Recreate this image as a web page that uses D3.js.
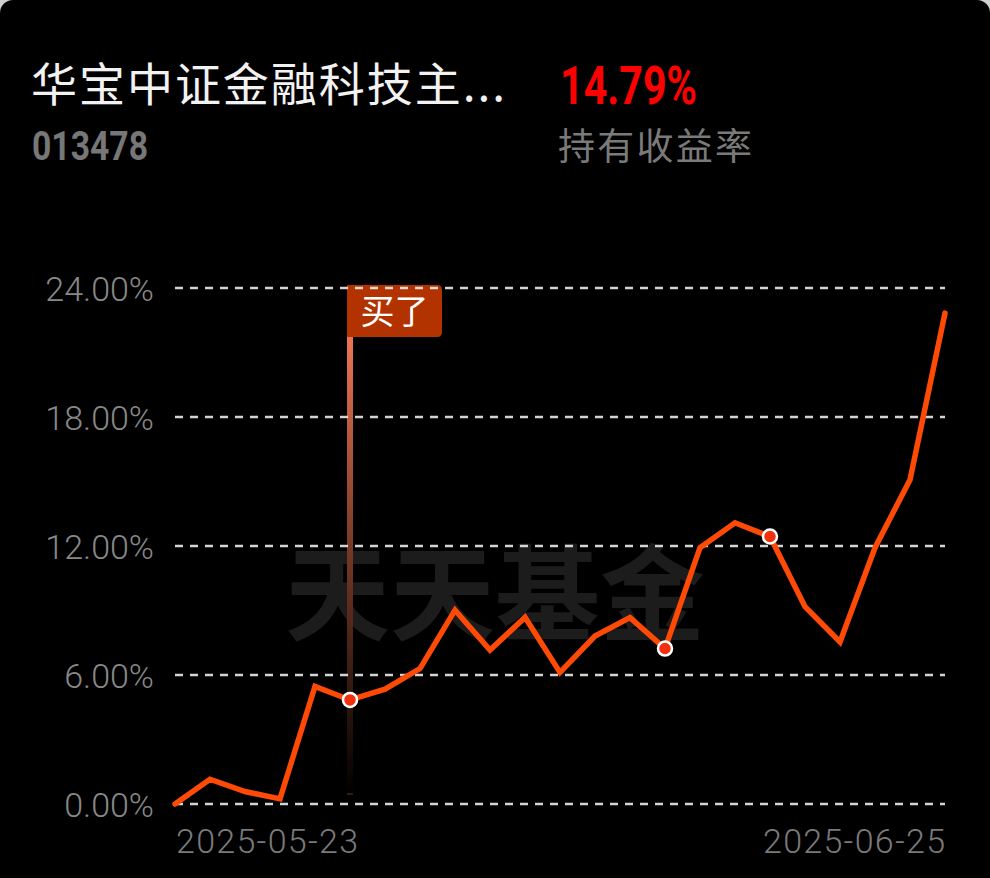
<!DOCTYPE html>
<html>
<head>
<meta charset="utf-8">
<script src="https://cdn.jsdelivr.net/npm/d3@7/dist/d3.min.js"></script>
<style>
  html, body { margin: 0; padding: 0; background: #d0d0d0; }
  svg { display: block; }
</style>
</head>
<body>
<svg id="chart" width="990" height="878"></svg>
<script>
const fundName = "华宝中证金融科技主...";
const fundCode = "013478";
const holdingReturn = "14.79%";
const holdingLabel = "持有收益率";
const watermark = "天天基金";
const buyLabel = "买了";

const dates = ["2025-05-23","2025-05-26","2025-05-27","2025-05-28","2025-05-29","2025-05-30",
  "2025-06-03","2025-06-04","2025-06-05","2025-06-06","2025-06-09","2025-06-10","2025-06-11",
  "2025-06-12","2025-06-13","2025-06-16","2025-06-17","2025-06-18","2025-06-19","2025-06-20",
  "2025-06-23","2025-06-24","2025-06-25"];
const returns = [0, 1.15, 0.58, 0.24, 5.47, 4.84, 5.34, 6.30, 9.02, 7.16, 8.68, 6.12, 7.81,
  8.67, 7.23, 11.92, 13.08, 12.44, 9.18, 7.54, 11.92, 15.08, 22.83];
const markedDates = ["2025-05-30", "2025-06-13", "2025-06-18"];
const buyDate = "2025-05-30";
const yTicks = [0, 6, 12, 18, 24];
const xTickLabels = ["2025-05-23", "2025-06-25"];

const svg = d3.select("#chart");
const W = 990, H = 878;
const data = dates.map((d, i) => ({ date: d, v: returns[i] }));

// card background
svg.append("rect").attr("x", 0).attr("y", 0).attr("width", W).attr("height", H + 20)
  .attr("rx", 13).attr("fill", "#000");

const margin = { left: 175, right: 45, top: 288, bottom: 74 };
const x = d3.scalePoint().domain(dates).range([margin.left, W - margin.right]);
const y = d3.scaleLinear().domain([0, 24]).range([H - margin.bottom, margin.top]);

// header
svg.append("text").attr("x", 31).attr("y", 101).text(fundName)
  .attr("fill", "#f2f2f2").attr("font-family", "'Noto Sans CJK SC'")
  .attr("font-size", 46).attr("textLength", 474).attr("lengthAdjust", "spacing");
svg.append("text").attr("x", 32).attr("y", 160).text(fundCode)
  .attr("fill", "#777").attr("font-family", "Roboto")
  .attr("font-weight", "bold").attr("font-size", 41)
  .attr("textLength", 116).attr("lengthAdjust", "spacingAndGlyphs");
svg.append("text").attr("x", 560).attr("y", 104).text(holdingReturn)
  .attr("fill", "#ff0000").attr("font-family", "Roboto")
  .attr("font-weight", "bold").attr("font-size", 53)
  .attr("textLength", 137).attr("lengthAdjust", "spacingAndGlyphs");
svg.append("text").attr("x", 558).attr("y", 160).text(holdingLabel)
  .attr("fill", "#7a7a7a").attr("font-family", "'Noto Sans CJK SC'")
  .attr("font-size", 37).attr("textLength", 194).attr("lengthAdjust", "spacing");

// watermark
svg.append("text").attr("x", 285).attr("y", 633).text(watermark)
  .attr("fill", "#1c1c1c").attr("font-family", "'Noto Sans CJK SC'")
  .attr("font-weight", "700").attr("font-size", 104)
  .attr("textLength", 420).attr("lengthAdjust", "spacingAndGlyphs");

// buy marker line with gradient
const defs = svg.append("defs");
const grad = defs.append("linearGradient").attr("id", "buyGrad")
  .attr("x1", 0).attr("y1", 0).attr("x2", 0).attr("y2", 1);
grad.append("stop").attr("offset", "0%").attr("stop-color", "#ec7552");
grad.append("stop").attr("offset", "45%").attr("stop-color", "#7a3a26");
grad.append("stop").attr("offset", "100%").attr("stop-color", "#000");
svg.append("rect").attr("x", x(buyDate) - 3).attr("y", 336)
  .attr("width", 6).attr("height", y(0) - 9 - 336)
  .attr("fill", "url(#buyGrad)");
svg.append("rect").attr("x", x(buyDate) - 3).attr("y", y(0) - 11)
  .attr("width", 6).attr("height", 2).attr("fill", "#3a1a10");

// buy label flag
const fx = x(buyDate) - 3, fy = 285, fw = 95, fh = 52, r = 5;
svg.append("path")
  .attr("d", `M${fx},${fy} H${fx + fw - r} Q${fx + fw},${fy} ${fx + fw},${fy + r} V${fy + fh - r} Q${fx + fw},${fy + fh} ${fx + fw - r},${fy + fh} H${fx} Z`)
  .attr("fill", "#b33300");
svg.append("text").attr("x", fx + fw / 2).attr("y", fy + 39).text(buyLabel)
  .attr("text-anchor", "middle").attr("fill", "#fff")
  .attr("font-family", "'Noto Sans CJK SC'").attr("font-size", 34);

// grid lines
const grid = svg.append("g");
grid.selectAll("line").data(yTicks).join("line")
  .attr("x1", margin.left).attr("x2", W - margin.right)
  .attr("y1", d => y(d)).attr("y2", d => y(d))
  .attr("stroke", "rgba(235,235,235,0.9)").attr("stroke-width", 2.5)
  .attr("stroke-dasharray", "8,7");

// y axis labels
const yAxis = d3.axisLeft(y).tickValues(yTicks).tickSize(0).tickPadding(0)
  .tickFormat(d => d.toFixed(2) + "%");
const yg = svg.append("g").attr("transform", `translate(154,0)`).call(yAxis);
yg.select(".domain").remove();
yg.selectAll("text").attr("fill", "#888").attr("font-family", "Roboto")
  .attr("font-weight", 300).attr("font-size", 34).attr("dy", "0.36em");

// x labels
svg.selectAll("text.xl").data(xTickLabels).join("text").attr("class", "xl")
  .attr("x", (d, i) => i === 0 ? x(d) + 1 : x(d) - 182)
  .attr("y", 853)
  .text(d => d)
  .attr("fill", "#7a7a7a").attr("font-family", "Roboto").attr("font-weight", 300)
  .attr("font-size", 34).attr("textLength", 182).attr("lengthAdjust", "spacing");

// line
const line = d3.line().x(d => x(d.date)).y(d => y(d.v));
svg.append("path").datum(data).attr("d", line)
  .attr("fill", "none").attr("stroke", "#ff4a06").attr("stroke-width", 5.5)
  .attr("stroke-linejoin", "miter").attr("stroke-linecap", "round");

// marked dots
svg.selectAll("circle.mk").data(data.filter(d => markedDates.includes(d.date)))
  .join("circle").attr("class", "mk")
  .attr("cx", d => x(d.date)).attr("cy", d => y(d.v)).attr("r", 7)
  .attr("fill", "#f2300e").attr("stroke", "#fff").attr("stroke-width", 2.5);
</script>
</body>
</html>
